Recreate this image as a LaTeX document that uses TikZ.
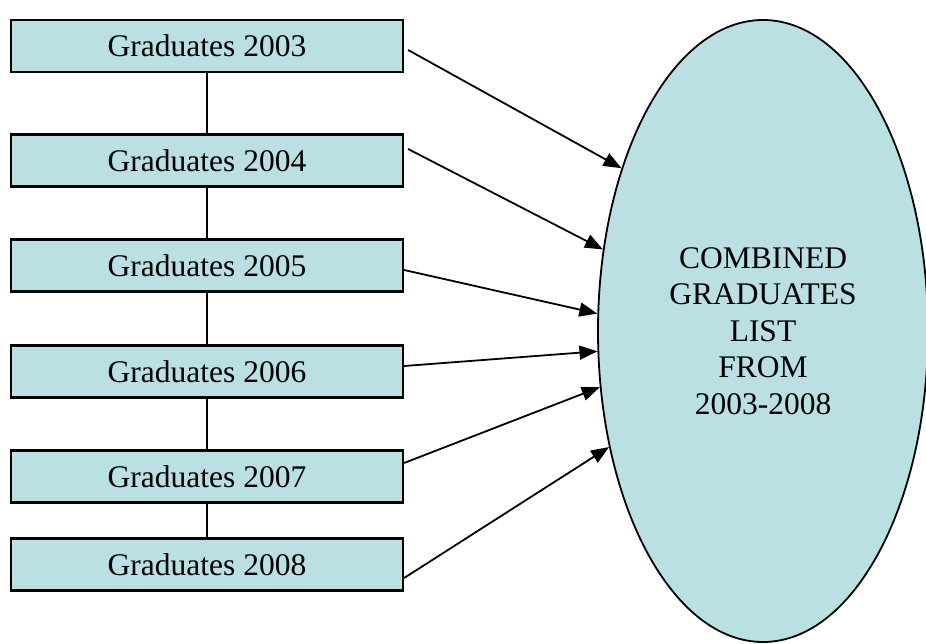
\documentclass[tikz,border=0pt]{standalone}
\usepackage{fontspec}
\setmainfont{Liberation Serif}
\usetikzlibrary{shapes.geometric,arrows.meta}
\definecolor{paleblue}{RGB}{186,224,227}
\tikzset{
  yearbox/.style={draw=black, fill=paleblue, line width=2.2pt, inner sep=0pt,
    minimum width=392pt, minimum height=52pt,
    font=\fontsize{31.5}{36}\selectfont},
  listoval/.style={ellipse, draw=black, fill=paleblue, line width=1.8pt, inner sep=0pt,
    minimum width=330pt, minimum height=622pt, align=center,
    font=\fontsize{31.5}{36.5}\selectfont},
  link/.style={line width=1.8pt},
  feed/.style={line width=1.8pt, -{Triangle[length=18pt,width=14pt]}}
}
\begin{document}
\begin{tikzpicture}[x=1pt,y=1pt]
  \useasboundingbox (0,0) rectangle (926,643);
  \clip (0,0) rectangle (926,643);
  \fill[white] (0,0) rectangle (926,643);

  % yearly lists
  \node[yearbox] (b1) at (207,597)   {Graduates 2003};
  \node[yearbox] (b2) at (207,482.5) {Graduates 2004};
  \node[yearbox] (b3) at (207,377.5) {Graduates 2005};
  \node[yearbox] (b4) at (207,271.5) {Graduates 2006};
  \node[yearbox] (b5) at (207,166.5) {Graduates 2007};
  \node[yearbox] (b6) at (207,78.5)  {Graduates 2008};

  % combined list
  \node[listoval] (all) at (763,312)
    {COMBINED\\GRADUATES\\LIST\\FROM\\2003-2008};

  % vertical chain between the years
  \draw[link] (b1.south) -- (b2.north);
  \draw[link] (b2.south) -- (b3.north);
  \draw[link] (b3.south) -- (b4.north);
  \draw[link] (b4.south) -- (b5.north);
  \draw[link] (b5.south) -- (b6.north);

  % arrows into the combined list
  \draw[feed] ([xshift=4pt,yshift=-4pt]b1.east)   -- (all.131.7);
  \draw[feed] ([xshift=4pt,yshift=11.5pt]b2.east) -- (all.153.1);
  \draw[feed] ([yshift=-4.5pt]b3.east)            -- (all.174.4);
  \draw[feed] ([yshift=5.5pt]b4.east)             -- (all.187.5);
  \draw[feed] ([yshift=13.5pt]b5.east)            -- (all.199.0);
  \draw[feed] ([yshift=-13.5pt]b6.east)           -- (all.217.5);
\end{tikzpicture}
\end{document}
